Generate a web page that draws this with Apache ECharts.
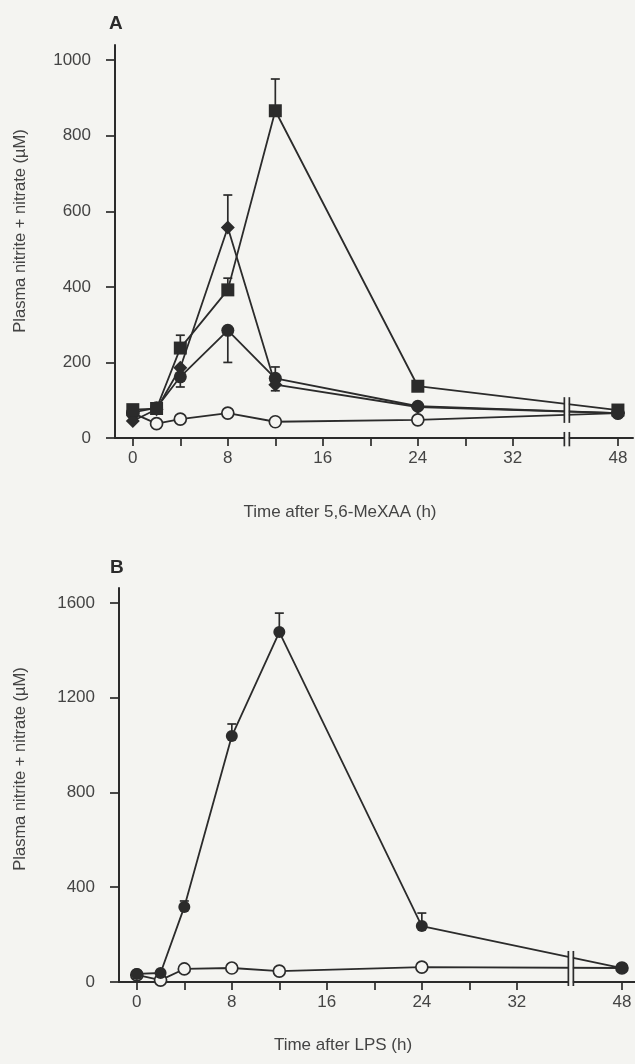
<!DOCTYPE html>
<html>
<head>
<meta charset="utf-8">
<script src="https://cdn.jsdelivr.net/npm/echarts@6/dist/echarts.min.js"></script>
<style>
html, body { margin: 0; padding: 0; background: #f4f4f1; }
#chart { width: 635px; height: 1064px; }
</style>
</head>
<body>
<div id="chart"></div>
<script>
// sampling times (h)
var timesA = [0, 2, 4, 8, 12, 24, 48];
var timesB = [0, 2, 4, 8, 12, 24, 48];

// panel A, plasma nitrite + nitrate (uM)
var squareA  = [75, 78, 238, 392, 866, 137, 74];
var diamondA = [45, 76, 186, 557, 141, 82, 66];
var dotA     = [68, 80, 162, 285, 158, 84, 66];
var openA    = [66, 38, 50, 66, 43, 48, 66];
// error bar ends [time, value, tip]
var errA = [
    [4, 238, 272], [8, 392, 423], [12, 866, 950],
    [8, 557, 643], [12, 141, 125],
    [4, 162, 135], [8, 285, 200], [12, 158, 188]
];

// panel B
var dotB  = [34, 38, 317, 1038, 1477, 236, 59];
var openB = [30, 8, 55, 59, 46, 63, 59];
var errB  = [[4, 317, 342], [8, 1038, 1089], [12, 1477, 1557], [24, 236, 291]];

var ticksX  = [0, 4, 8, 12, 16, 20, 24, 28, 32, 48];
var labelsX = [0, 8, 16, 24, 32, 48];
var ticksYA = [0, 200, 400, 600, 800, 1000];
var ticksYB = [0, 400, 800, 1200, 1600];

// broken time axis: everything after the break is shifted left
var BREAK_AT = 36.55, SHIFT = 7.15;
function axT(t) { return t > BREAK_AT ? t - SHIFT : t; }
function unT(v) { return String(v > BREAK_AT ? Math.round(v + SHIFT) : Math.round(v)); }

var ink = '#2b2b2b', bg = '#f4f4f1', txt = '#444';
var font = 'Liberation Sans, Arial';

function pts(times, vals) {
    return times.map(function (t, i) { return [axT(t), vals[i]]; });
}

function lineSeries(idx, times, vals, symbol, size, open) {
    return {
        type: 'line', xAxisIndex: idx, yAxisIndex: idx,
        data: pts(times, vals),
        symbol: symbol, symbolSize: size, showSymbol: true,
        lineStyle: { color: ink, width: 1.8 },
        itemStyle: open ? { color: bg, borderColor: ink, borderWidth: 1.7 }
                        : { color: ink, borderColor: ink, borderWidth: 0 },
        z: 4, animation: false
    };
}

function errSeries(idx, list) {
    return {
        type: 'custom', xAxisIndex: idx, yAxisIndex: idx, z: 3, animation: false,
        data: list.map(function (e) { return [axT(e[0]), e[1], e[2]]; }),
        renderItem: function (params, api) {
            var a = api.coord([api.value(0), api.value(1)]);
            var b = api.coord([api.value(0), api.value(2)]);
            var st = { stroke: ink, lineWidth: 1.7 };
            return { type: 'group', children: [
                { type: 'line', shape: { x1: a[0], y1: a[1], x2: b[0], y2: b[1] }, style: st },
                { type: 'line', shape: { x1: b[0] - 4.5, y1: b[1], x2: b[0] + 4.5, y2: b[1] }, style: st }
            ]};
        }
    };
}

// double-bar break marks [x, from, to]
function breakSeries(idx, segs) {
    return {
        type: 'custom', xAxisIndex: idx, yAxisIndex: idx, z: 6, clip: false, animation: false,
        data: segs,
        renderItem: function (params, api) {
            var a = api.coord([api.value(0), api.value(1)]);
            var b = api.coord([api.value(0), api.value(2)]);
            var st = { stroke: ink, lineWidth: 1.7 };
            return { type: 'group', children: [
                { type: 'rect', shape: { x: a[0] - 2, y: b[1], width: 4, height: a[1] - b[1] }, style: { fill: bg } },
                { type: 'line', shape: { x1: a[0] - 2.5, y1: a[1], x2: a[0] - 2.5, y2: b[1] }, style: st },
                { type: 'line', shape: { x1: a[0] + 2.5, y1: a[1], x2: a[0] + 2.5, y2: b[1] }, style: st }
            ]};
        }
    };
}

function xAxis(idx, max) {
    return {
        type: 'value', gridIndex: idx, min: -1.5, max: max,
        splitLine: { show: false },
        axisLine: { lineStyle: { color: ink, width: 2 } },
        axisTick: { length: 8, lineStyle: { color: ink, width: 1.7 },
                    customValues: ticksX.map(axT) },
        axisLabel: { color: txt, fontSize: 17, margin: 12, fontFamily: font,
                     customValues: labelsX.map(axT), formatter: unT }
    };
}

function yAxis(idx, max, ticks) {
    return {
        type: 'value', gridIndex: idx, min: 0, max: max,
        splitLine: { show: false },
        axisLine: { show: true, onZero: false, lineStyle: { color: ink, width: 2 } },
        axisTick: { show: true, length: 9, lineStyle: { color: ink, width: 1.7 }, customValues: ticks },
        axisLabel: { color: txt, fontSize: 17, margin: 24, fontFamily: font,
                     customValues: ticks, formatter: function (v) { return String(v); } }
    };
}

var titleFont = { fill: txt, fontSize: 17, fontFamily: font };

var option = {
    backgroundColor: bg,
    animation: false,
    grid: [
        { left: 115, top: 45, width: 518, height: 393, outerBoundsMode: 'none' },
        { left: 119, top: 588, width: 516, height: 394, outerBoundsMode: 'none' }
    ],
    xAxis: [xAxis(0, 42.12), xAxis(1, 41.95)],
    yAxis: [yAxis(0, 1040, ticksYA), yAxis(1, 1663, ticksYB)],
    graphic: [
        { type: 'text', left: 109, top: 14, style: { text: 'A', fill: ink, fontSize: 19, fontWeight: 'bold', fontFamily: font } },
        { type: 'text', left: 110, top: 558, style: { text: 'B', fill: ink, fontSize: 19, fontWeight: 'bold', fontFamily: font } },
        { type: 'text', x: 20, y: 231, rotation: Math.PI / 2,
          style: Object.assign({ text: 'Plasma nitrite + nitrate (µM)', align: 'center', verticalAlign: 'middle' }, titleFont, { fontSize: 16.5 }) },
        { type: 'text', x: 20, y: 769, rotation: Math.PI / 2,
          style: Object.assign({ text: 'Plasma nitrite + nitrate (µM)', align: 'center', verticalAlign: 'middle' }, titleFont, { fontSize: 16.5 }) },
        { type: 'text', x: 340, y: 512,
          style: Object.assign({ text: 'Time after 5,6-MeXAA (h)', align: 'center', verticalAlign: 'middle' }, titleFont) },
        { type: 'text', x: 343, y: 1045,
          style: Object.assign({ text: 'Time after LPS (h)', align: 'center', verticalAlign: 'middle' }, titleFont) }
    ],
    series: [
        errSeries(0, errA),
        lineSeries(0, timesA, openA, 'circle', 12, true),
        lineSeries(0, timesA, dotA, 'circle', 13, false),
        lineSeries(0, timesA, diamondA, 'diamond', 14, false),
        lineSeries(0, timesA, squareA, 'rect', 13, false),
        breakSeries(0, [[BREAK_AT, 40, 108], [BREAK_AT, -22, 16]]),
        errSeries(1, errB),
        lineSeries(1, timesB, openB, 'circle', 12, true),
        lineSeries(1, timesB, dotB, 'circle', 12, false),
        breakSeries(1, [[BREAK_AT, -17, 131]])
    ]
};

var myChart = echarts.init(document.getElementById('chart'));
myChart.setOption(option);
</script>
</body>
</html>
